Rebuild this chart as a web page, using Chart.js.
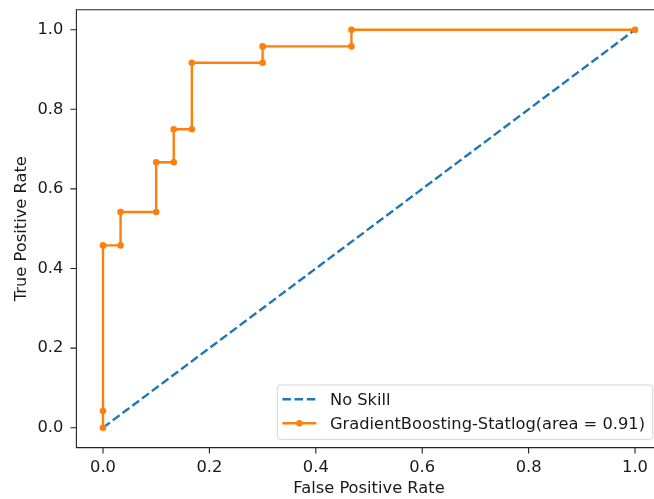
<!DOCTYPE html>
<html>
<head>
	<style type="text/css">
	body{
		margin: 0;
		width: 654px;
		height: 499px;
		overflow: hidden;
		background: #fff;
	}
	#wrap{
		width: 654px;
		height: 499px;
		overflow: hidden;
	}
	</style>
    <title>ROC</title>
    <script type="text/javascript" src="https://cdn.jsdelivr.net/npm/chart.js@4/dist/chart.umd.min.js"></script>
</head>
<body>
<div id="wrap"><canvas id="roc" width="680" height="499"></canvas></div>
<script type="text/javascript">
    // values
    var noSkillFpr = [0, 1];
    var noSkillTpr = [0, 1];
    var modelFpr = [0, 0, 0, 0.033, 0.033, 0.1, 0.1, 0.133, 0.133, 0.167, 0.167, 0.3, 0.3, 0.467, 0.467, 1.0];
    var modelTpr = [0, 0.042, 0.458, 0.458, 0.542, 0.542, 0.667, 0.667, 0.75, 0.75, 0.917, 0.917, 0.958, 0.958, 1.0, 1.0];
    var tickValues = [0, 0.2, 0.4, 0.6, 0.8, 1.0];
    var labels = ['No Skill', 'GradientBoosting-Statlog(area = 0.91)'];

    var FONT = 'DejaVu Sans';
    var FS = 16.3;
    var BLUE = '#1f77b4';
    var ORANGE = '#ff7f0e';
    var TEXT = '#1a1a1a';
    var TICK_LEN = 6;

    function toPoints(xs, ys) {
        var pts = [];
        for (var i = 0; i < xs.length; ++i) {
            pts.push({x: xs[i], y: ys[i]});
        }
        return pts;
    }

    function fixTicks(scale) {
        scale.ticks = tickValues.map(function (v) { return {value: v}; });
    }

    function noPad(scale) {
        scale.paddingLeft = 0;
        scale.paddingRight = 0;
        scale.paddingTop = 0;
        scale.paddingBottom = 0;
    }

    // spines, tick marks and the legend inside the axes (lower right)
    var framePlugin = {
        id: 'frame',
        afterDatasetsDraw: function (chart) {
            var ctx = chart.ctx;
            var a = chart.chartArea;
            var xs = chart.scales.x;
            var ys = chart.scales.y;
            ctx.save();
            ctx.strokeStyle = '#222';
            ctx.lineWidth = 1.1;
            ctx.beginPath();
            ctx.moveTo(a.right, a.top);
            ctx.lineTo(a.left, a.top);
            ctx.lineTo(a.left, a.bottom);
            ctx.lineTo(a.right, a.bottom);
            tickValues.forEach(function (v) {
                var px = xs.getPixelForValue(v);
                ctx.moveTo(px, a.bottom);
                ctx.lineTo(px, a.bottom + TICK_LEN);
                var py = ys.getPixelForValue(v);
                ctx.moveTo(a.left, py);
                ctx.lineTo(a.left - TICK_LEN, py);
            });
            ctx.stroke();
            ctx.restore();
        },
        afterDraw: function (chart) {
            var ctx = chart.ctx;
            var a = chart.chartArea;
            ctx.save();
            ctx.font = FS + 'px "' + FONT + '"';
            var textW = 0;
            chart.data.datasets.forEach(function (ds) {
                textW = Math.max(textW, ctx.measureText(ds.label).width);
            });
            var right = a.right - 8.9;
            var bottom = a.bottom - 8.3;
            var width = 5 + 34 + 13.6 + textW + 7.7;
            var height = 54.3;
            var left = right - width;
            var top = bottom - height;
            ctx.beginPath();
            ctx.roundRect(left, top, width, height, 3);
            ctx.fillStyle = 'rgba(255,255,255,0.8)';
            ctx.fill();
            ctx.strokeStyle = '#d5d5d5';
            ctx.lineWidth = 1;
            ctx.stroke();

            var rows = [top + 14.3, top + 38.3];
            var order = [1, 0]; // legend order: No Skill, then model
            for (var r = 0; r < 2; ++r) {
                var ds = chart.data.datasets[order[r]];
                var y = rows[r];
                var x0 = left + 5;
                ctx.beginPath();
                ctx.setLineDash(ds.borderDash || []);
                ctx.strokeStyle = ds.borderColor;
                ctx.lineWidth = ds.borderWidth;
                ctx.moveTo(x0, y);
                ctx.lineTo(x0 + 34, y);
                ctx.stroke();
                ctx.setLineDash([]);
                if (ds.pointRadius > 0) {
                    ctx.beginPath();
                    ctx.arc(x0 + 17, y, ds.pointRadius, 0, Math.PI * 2);
                    ctx.fillStyle = ds.borderColor;
                    ctx.fill();
                }
                ctx.fillStyle = TEXT;
                ctx.textBaseline = 'middle';
                ctx.textAlign = 'left';
                ctx.fillText(ds.label, x0 + 34 + 13.6, y + 1);
            }
            ctx.restore();
        }
    };

    var chart = new Chart(document.getElementById('roc').getContext('2d'), {
        type: 'scatter',
        data: {
            datasets: [
                {
                    label: labels[1],
                    data: toPoints(modelFpr, modelTpr),
                    showLine: true,
                    borderColor: ORANGE,
                    backgroundColor: ORANGE,
                    borderWidth: 2.4,
                    pointRadius: 3.3,
                    pointBorderWidth: 0,
                    pointHoverRadius: 3.3,
                    order: 0
                },
                {
                    label: labels[0],
                    data: toPoints(noSkillFpr, noSkillTpr),
                    showLine: true,
                    borderColor: BLUE,
                    backgroundColor: BLUE,
                    borderWidth: 2.4,
                    borderDash: [8.5, 3.7],
                    pointRadius: 0,
                    pointHoverRadius: 0,
                    order: 1
                }
            ]
        },
        options: {
            responsive: false,
            animation: false,
            events: [],
            layout: {
                padding: {left: 0, top: 9.8, right: 18.4, bottom: 0}
            },
            plugins: {
                legend: {display: false},
                tooltip: {enabled: false}
            },
            scales: {
                x: {
                    type: 'linear',
                    min: -0.05,
                    max: 1.05,
                    afterBuildTicks: fixTicks,
                    afterFit: function (scale) { scale.height = 51.4; noPad(scale); },
                    border: {display: false},
                    // grid hidden, but its tick length still sets the label offset
                    grid: {display: false, drawTicks: true, tickLength: TICK_LEN},
                    ticks: {
                        padding: 4.1,
                        color: TEXT,
                        font: {family: FONT, size: FS},
                        maxRotation: 0,
                        autoSkip: false,
                        callback: function (v) { return v.toFixed(1); }
                    },
                    title: {
                        display: true,
                        text: 'False Positive Rate',
                        color: TEXT,
                        font: {family: FONT, size: FS},
                        padding: {top: 0, bottom: 0.5}
                    }
                },
                y: {
                    type: 'linear',
                    min: -0.05,
                    max: 1.05,
                    afterBuildTicks: fixTicks,
                    afterFit: function (scale) { scale.width = 76.4; noPad(scale); },
                    border: {display: false},
                    grid: {display: false, drawTicks: true, tickLength: TICK_LEN},
                    ticks: {
                        padding: 7,
                        color: TEXT,
                        font: {family: FONT, size: FS},
                        callback: function (v) { return v.toFixed(1); }
                    },
                    title: {
                        display: true,
                        text: 'True Positive Rate',
                        color: TEXT,
                        font: {family: FONT, size: FS},
                        padding: {top: 12, bottom: 0}
                    }
                }
            }
        },
        plugins: [framePlugin]
    });
</script>
</body>
</html>
